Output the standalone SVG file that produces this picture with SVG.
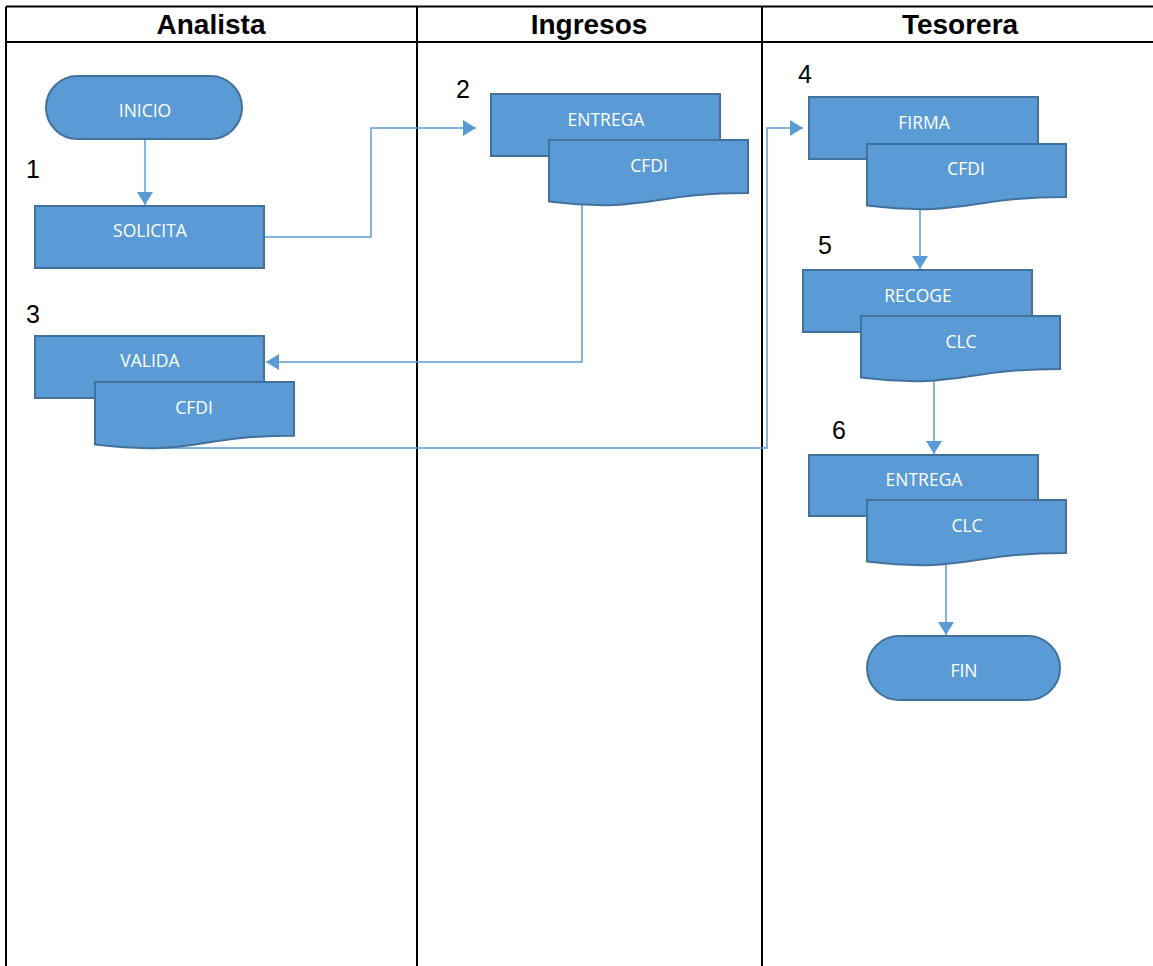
<svg xmlns="http://www.w3.org/2000/svg" width="1153" height="966" viewBox="0 0 1153 966">
<style>
.grid{stroke:#000;stroke-width:2;fill:none}
.hdr{font-family:"Liberation Sans",Arial,sans-serif;font-weight:bold;font-size:28px;fill:#000;text-anchor:middle}
.num{font-family:"Liberation Sans",Arial,sans-serif;font-size:25px;fill:#000;text-anchor:middle}
.shape{fill:#5B9BD5;stroke:#41719C;stroke-width:2}
.lbl{font-family:"Open Sans","Liberation Sans",sans-serif;font-size:17.5px;fill:#fff;text-anchor:middle}
.conn{fill:none;stroke:#5B9BD5;stroke-width:1.5}
</style>
<defs>
<marker id="arr" markerUnits="userSpaceOnUse" markerWidth="14" markerHeight="16" refX="13" refY="8" orient="auto">
<path d="M0,0 L13,8 L0,16 Z" fill="#5B9BD5"/>
</marker>
</defs>
<rect width="1153" height="966" fill="#fff"/>
<g id="table">
<path class="grid" d="M6,6.5 H1153 M6,42 H1153 M6,6.5 V966 M417,6.5 V966 M762,6.5 V966"/>
<text class="hdr" x="211" y="34">Analista</text>
<text class="hdr" x="589" y="34">Ingresos</text>
<text class="hdr" x="960" y="34">Tesorera</text>
</g>
<g id="numbers">
<text class="num" x="33" y="178">1</text>
<text class="num" x="463" y="98">2</text>
<text class="num" x="33" y="323">3</text>
<text class="num" x="805" y="83">4</text>
<text class="num" x="825" y="254">5</text>
<text class="num" x="839" y="439">6</text>
</g>
<g id="connectors">
<path class="conn" d="M145,140 V205" marker-end="url(#arr)"/>
<path class="conn" d="M264,237 H371 V128 H476" marker-end="url(#arr)"/>
<path class="conn" d="M582,205 V362 H266" marker-end="url(#arr)"/>
<path class="conn" d="M150,448 H767 V128 H803" marker-end="url(#arr)"/>
<path class="conn" d="M920,208 V269" marker-end="url(#arr)"/>
<path class="conn" d="M934,380 V454" marker-end="url(#arr)"/>
<path class="conn" d="M946,565 V635" marker-end="url(#arr)"/>
</g>
<g id="inicio">
<rect class="shape" x="46" y="76" width="196" height="63" rx="31.5"/>
<text class="lbl" x="145" y="117">INICIO</text>
</g>
<g id="solicita">
<rect class="shape" x="35" y="206" width="229" height="62"/>
<text class="lbl" x="150" y="237">SOLICITA</text>
</g>
<g id="valida">
<rect class="shape" x="35" y="336" width="229" height="62"/>
<text class="lbl" x="150" y="367">VALIDA</text>
</g>
<g id="valida-cfdi">
<path class="shape" d="M95,382 H294 V435.7 C194.5,435.7 194.5,456.2 95,444.6 Z"/>
<text class="lbl" x="194" y="414">CFDI</text>
</g>
<g id="entrega-ingresos">
<rect class="shape" x="491" y="94" width="229" height="62"/>
<text class="lbl" x="606" y="126">ENTREGA</text>
</g>
<g id="ingresos-cfdi">
<path class="shape" d="M549,140 H748 V192.9 C648.5,192.9 648.5,213.1 549,201.6 Z"/>
<text class="lbl" x="649" y="172">CFDI</text>
</g>
<g id="firma">
<rect class="shape" x="809" y="97" width="229" height="62"/>
<text class="lbl" x="924" y="129">FIRMA</text>
</g>
<g id="firma-cfdi">
<path class="shape" d="M867,144 H1066 V196.9 C966.5,196.9 966.5,217.1 867,205.6 Z"/>
<text class="lbl" x="966" y="175">CFDI</text>
</g>
<g id="recoge">
<rect class="shape" x="803" y="270" width="229" height="62"/>
<text class="lbl" x="918" y="302">RECOGE</text>
</g>
<g id="recoge-clc">
<path class="shape" d="M861,316 H1060 V368.9 C960.5,368.9 960.5,389.1 861,377.6 Z"/>
<text class="lbl" x="961" y="348">CLC</text>
</g>
<g id="entrega-tesorera">
<rect class="shape" x="809" y="455" width="229" height="61"/>
<text class="lbl" x="924" y="486">ENTREGA</text>
</g>
<g id="entrega-clc">
<path class="shape" d="M867,500 H1066 V552.9 C966.5,552.9 966.5,573.1 867,561.6 Z"/>
<text class="lbl" x="967" y="532">CLC</text>
</g>
<g id="fin">
<rect class="shape" x="867" y="636" width="193" height="64" rx="32"/>
<text class="lbl" x="964" y="677">FIN</text>
</g>
</svg>
